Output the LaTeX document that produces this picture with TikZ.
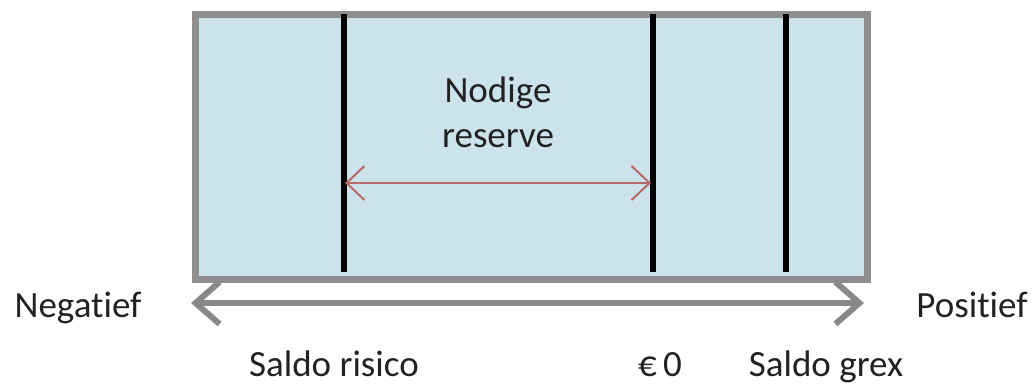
\documentclass[tikz,border=0pt]{standalone}
\usepackage{fontspec}
\setmainfont{Carlito}[Ligatures={NoCommon,NoDiscretionary,NoContextual}]
\usetikzlibrary{arrows.meta}
\definecolor{panel}{HTML}{CCE3EC}
\definecolor{frame}{HTML}{8E8E8E}
\definecolor{axis}{HTML}{888888}
\definecolor{span}{HTML}{B86A6A}
\definecolor{ink}{HTML}{222222}
\tikzset{
  lbl/.style={font=\fontsize{37}{44}\selectfont, text=ink, inner sep=0pt, anchor=base},
  divider/.style={draw=black, line width=6pt},
  axisarrow/.style={draw=axis, line width=6pt,
    {Straight Barb[length=24pt, width=42pt]}-{Straight Barb[length=24pt, width=42pt]}},
  spanarrow/.style={draw=span, line width=2pt,
    {Straight Barb[length=18pt, width=34pt, line width=2pt]}-{Straight Barb[length=18pt, width=34pt, line width=2pt]}},
}
\begin{document}
\begin{tikzpicture}[x=1pt, y=-1pt]
  \useasboundingbox (0,0) rectangle (1036,387);
  % the bar
  \node (box) [draw=frame, fill=panel, line width=7pt, minimum width=672pt,
    minimum height=265pt, inner sep=0pt, anchor=north west] at (191.5,11) {};
  % divider positions
  \coordinate (r0) at (343.5,14.5);  \coordinate (r1) at (343.5,272.5);
  \coordinate (z0) at (653,14.5);    \coordinate (z1) at (653,272.5);
  \coordinate (g0) at (786,14.5);    \coordinate (g1) at (786,272.5);
  \draw[divider] (r0) -- (r1);
  \draw[divider] (z0) -- (z1);
  \draw[divider] (g0) -- (g1);
  % required reserve span
  \coordinate (sa) at (345,183);
  \coordinate (sb) at (651,183);
  \draw[spanarrow] (sa) -- (sb);
  \node (t1) [lbl] at (498,103) {Nodige};
  \node (t2) [lbl] at (498,148) {reserve};
  % axis
  \coordinate (ax0) at (191,303);
  \coordinate (ax1) at (864,303);
  \draw[axisarrow] (ax0) -- (ax1);
  \node (neg) [lbl] at (78,317) {Negatief};
  \node (pos) [lbl] at (972,317) {Positief};
  \node (lr) [lbl] at (334,376) {Saldo risico};
  \node (lz) [lbl] at (660,376) {€\,0};
  \node (lg) [lbl] at (826,376) {Saldo grex};
\end{tikzpicture}
\end{document}
